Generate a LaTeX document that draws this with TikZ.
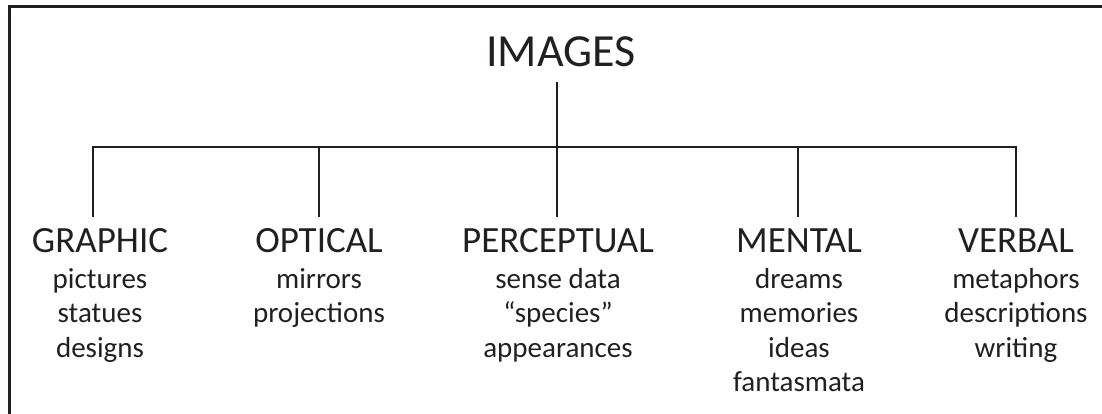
\documentclass[tikz,border=0pt]{standalone}
\usepackage{fontspec}
\setmainfont{Carlito}
\definecolor{ink}{HTML}{231F20}
\begin{document}
\begin{tikzpicture}[x=1pt,y=-1pt,
  link/.style={draw=ink,line width=2.2pt},
  frame/.style={draw=ink,line width=3pt},
  titletxt/.style={anchor=base,inner sep=0pt,text=ink,font=\fontsize{46}{46}\selectfont},
  head/.style={anchor=base,inner sep=0pt,text=ink,font=\fontsize{37}{37}\selectfont},
  item/.style={anchor=base,inner sep=0pt,text=ink,font=\fontsize{29}{29}\selectfont}]
\useasboundingbox (0,0) rectangle (1102,414);
\draw[frame] (9,7) rectangle (1120,430);
% title
\node[titletxt] (title) at (561,67) {IMAGES};
\coordinate (top) at (557,82);
\coordinate (hub) at (557,147);
% bar ends and drops
\coordinate (bg) at (93,147);
\coordinate (bo) at (319,147);
\coordinate (bp) at (557,147);
\coordinate (bm) at (798,147);
\coordinate (bv) at (1016,147);
\coordinate (tg) at (93,217);
\coordinate (to) at (319,217);
\coordinate (tp) at (557,217);
\coordinate (tm) at (798,217);
\coordinate (tv) at (1016,217);
\draw[link] (top) -- (hub);
\draw[link] ([xshift=-1.1pt]bg) -- ([xshift=1.1pt]bv);
\draw[link] (bg) -- (tg);
\draw[link] (bo) -- (to);
\draw[link] (bp) -- (tp);
\draw[link] (bm) -- (tm);
\draw[link] (bv) -- (tv);
% headings
\node[head] (graphic) at (100,252) {GRAPHIC};
\node[head] (optical) at (319,252) {OPTICAL};
\node[head] (perceptual) at (558,252) {PERCEPTUAL};
\node[head] (mental) at (799,252) {MENTAL};
\node[head] (verbal) at (1016,252) {VERBAL};
% items
\node[item] (g1) at (100,288) {pictures};
\node[item] (g2) at (100,322.5) {statues};
\node[item] (g3) at (100,357) {designs};
\node[item] (o1) at (319,288) {mirrors};
\node[item] (o2) at (319,322.5) {projections};
\node[item] (p1) at (558,288) {sense data};
\node[item] (p2) at (558,322.5) {“species”};
\node[item] (p3) at (558,357) {appearances};
\node[item] (m1) at (799,288) {dreams};
\node[item] (m2) at (799,322.5) {memories};
\node[item] (m3) at (799,357) {ideas};
\node[item] (m4) at (799,391.5) {fantasmata};
\node[item] (v1) at (1016,288) {metaphors};
\node[item] (v2) at (1016,322.5) {descriptions};
\node[item] (v3) at (1016,357) {writing};
\end{tikzpicture}
\end{document}
